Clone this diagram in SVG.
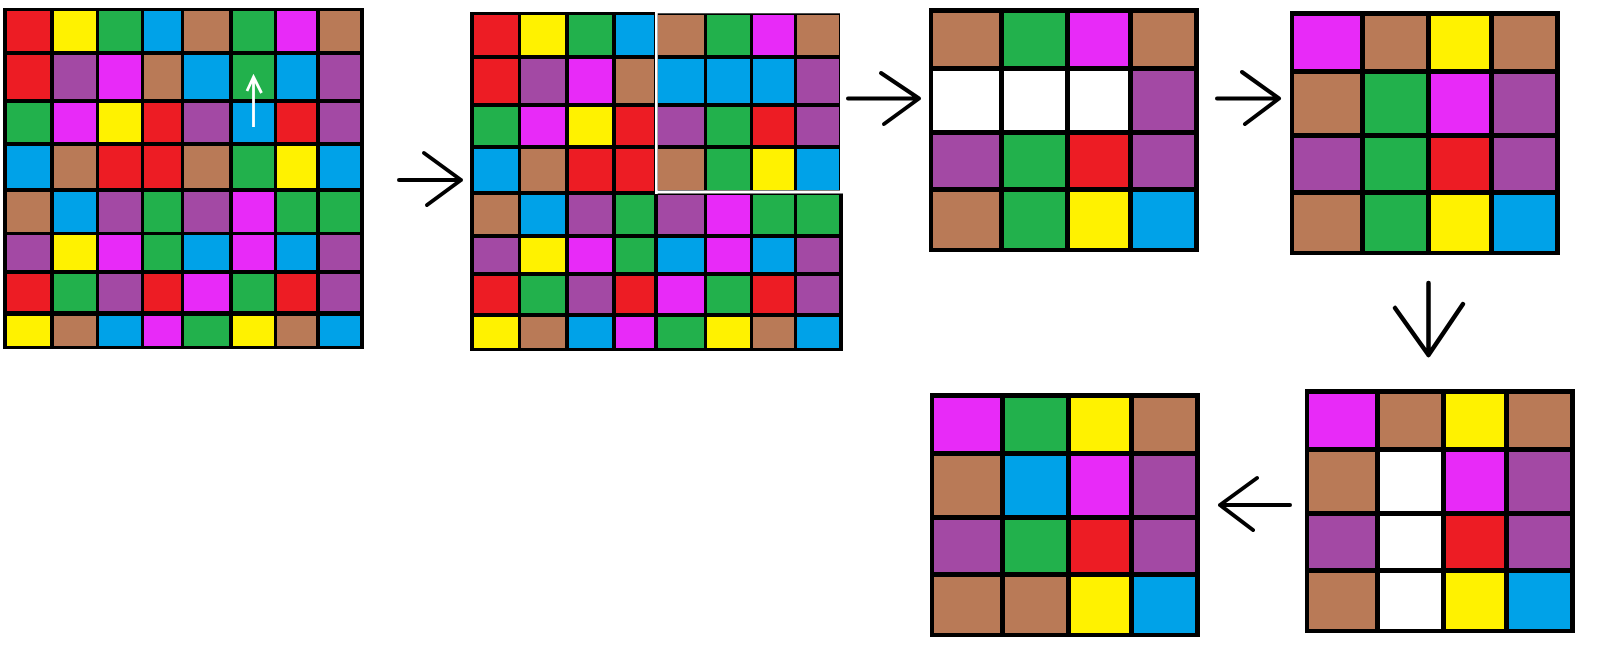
<svg xmlns="http://www.w3.org/2000/svg" width="1600" height="657" viewBox="0 0 1600 657">
<style>
.bk{fill:#000}
.r{fill:#ED1C24}.y{fill:#FFF200}.g{fill:#22B14C}.b{fill:#00A2E8}.n{fill:#B97A57}.m{fill:#E82AF8}.p{fill:#A349A4}.w{fill:#FFFFFF}
.arr{fill:none;stroke:#000;stroke-width:4;stroke-linecap:round;stroke-linejoin:round}
.warr{fill:none;stroke:#FFF;stroke-width:2.8}
</style>
<rect width="1600" height="657" fill="#fff"/>
<g id="grid1">
<rect class="bk" x="3" y="8" width="361" height="341"/>
<rect class="r" x="7" y="11" width="43" height="40"/><rect class="y" x="54" y="11" width="42" height="40"/><rect class="g" x="99" y="11" width="42" height="40"/><rect class="b" x="144" y="11" width="37" height="40"/><rect class="n" x="184" y="11" width="45" height="40"/><rect class="g" x="233" y="11" width="41" height="40"/><rect class="m" x="277" y="11" width="39" height="40"/><rect class="n" x="320" y="11" width="40" height="40"/>
<rect class="r" x="7" y="55" width="43" height="44"/><rect class="p" x="54" y="55" width="42" height="44"/><rect class="m" x="99" y="55" width="42" height="44"/><rect class="n" x="144" y="55" width="37" height="44"/><rect class="b" x="184" y="55" width="45" height="44"/><rect class="g" x="233" y="55" width="41" height="44"/><rect class="b" x="277" y="55" width="39" height="44"/><rect class="p" x="320" y="55" width="40" height="44"/>
<rect class="g" x="7" y="103" width="43" height="39"/><rect class="m" x="54" y="103" width="42" height="39"/><rect class="y" x="99" y="103" width="42" height="39"/><rect class="r" x="144" y="103" width="37" height="39"/><rect class="p" x="184" y="103" width="45" height="39"/><rect class="b" x="233" y="103" width="41" height="39"/><rect class="r" x="277" y="103" width="39" height="39"/><rect class="p" x="320" y="103" width="40" height="39"/>
<rect class="b" x="7" y="146" width="43" height="42"/><rect class="n" x="54" y="146" width="42" height="42"/><rect class="r" x="99" y="146" width="42" height="42"/><rect class="r" x="144" y="146" width="37" height="42"/><rect class="n" x="184" y="146" width="45" height="42"/><rect class="g" x="233" y="146" width="41" height="42"/><rect class="y" x="277" y="146" width="39" height="42"/><rect class="b" x="320" y="146" width="40" height="42"/>
<rect class="n" x="7" y="192" width="43" height="40"/><rect class="b" x="54" y="192" width="42" height="40"/><rect class="p" x="99" y="192" width="42" height="40"/><rect class="g" x="144" y="192" width="37" height="40"/><rect class="p" x="184" y="192" width="45" height="40"/><rect class="m" x="233" y="192" width="41" height="40"/><rect class="g" x="277" y="192" width="39" height="40"/><rect class="g" x="320" y="192" width="40" height="40"/>
<rect class="p" x="7" y="235" width="43" height="35"/><rect class="y" x="54" y="235" width="42" height="35"/><rect class="m" x="99" y="235" width="42" height="35"/><rect class="g" x="144" y="235" width="37" height="35"/><rect class="b" x="184" y="235" width="45" height="35"/><rect class="m" x="233" y="235" width="41" height="35"/><rect class="b" x="277" y="235" width="39" height="35"/><rect class="p" x="320" y="235" width="40" height="35"/>
<rect class="r" x="7" y="274" width="43" height="37"/><rect class="g" x="54" y="274" width="42" height="37"/><rect class="p" x="99" y="274" width="42" height="37"/><rect class="r" x="144" y="274" width="37" height="37"/><rect class="m" x="184" y="274" width="45" height="37"/><rect class="g" x="233" y="274" width="41" height="37"/><rect class="r" x="277" y="274" width="39" height="37"/><rect class="p" x="320" y="274" width="40" height="37"/>
<rect class="y" x="7" y="316" width="43" height="30"/><rect class="n" x="54" y="316" width="42" height="30"/><rect class="b" x="99" y="316" width="42" height="30"/><rect class="m" x="144" y="316" width="37" height="30"/><rect class="g" x="184" y="316" width="45" height="30"/><rect class="y" x="233" y="316" width="41" height="30"/><rect class="n" x="277" y="316" width="39" height="30"/><rect class="b" x="320" y="316" width="40" height="30"/>
<path class="warr" d="M253.5 127 V77 M247 91 L253.5 77 L261.5 93"/>
</g>
<g id="grid2">
<rect class="bk" x="470" y="12" width="373" height="339"/>
<rect class="r" x="474" y="15" width="44" height="40"/><rect class="y" x="521" y="15" width="44" height="40"/><rect class="g" x="569" y="15" width="43" height="40"/><rect class="b" x="616" y="15" width="38" height="40"/><rect class="n" x="658" y="15" width="46" height="40"/><rect class="g" x="707" y="15" width="43" height="40"/><rect class="m" x="753" y="15" width="41" height="40"/><rect class="n" x="797" y="15" width="42" height="40"/>
<rect class="r" x="474" y="59" width="44" height="44"/><rect class="p" x="521" y="59" width="44" height="44"/><rect class="m" x="569" y="59" width="43" height="44"/><rect class="n" x="616" y="59" width="38" height="44"/><rect class="b" x="658" y="59" width="46" height="44"/><rect class="b" x="707" y="59" width="43" height="44"/><rect class="b" x="753" y="59" width="41" height="44"/><rect class="p" x="797" y="59" width="42" height="44"/>
<rect class="g" x="474" y="107" width="44" height="38"/><rect class="m" x="521" y="107" width="44" height="38"/><rect class="y" x="569" y="107" width="43" height="38"/><rect class="r" x="616" y="107" width="38" height="38"/><rect class="p" x="658" y="107" width="46" height="38"/><rect class="g" x="707" y="107" width="43" height="38"/><rect class="r" x="753" y="107" width="41" height="38"/><rect class="p" x="797" y="107" width="42" height="38"/>
<rect class="b" x="474" y="149" width="44" height="42"/><rect class="n" x="521" y="149" width="44" height="42"/><rect class="r" x="569" y="149" width="43" height="42"/><rect class="r" x="616" y="149" width="38" height="42"/><rect class="n" x="658" y="149" width="46" height="41"/><rect class="g" x="707" y="149" width="43" height="41"/><rect class="y" x="753" y="149" width="41" height="41"/><rect class="b" x="797" y="149" width="42" height="41"/>
<rect class="n" x="474" y="195" width="44" height="39"/><rect class="b" x="521" y="195" width="44" height="39"/><rect class="p" x="569" y="195" width="43" height="39"/><rect class="g" x="616" y="195" width="38" height="39"/><rect class="p" x="658" y="195" width="46" height="39"/><rect class="m" x="707" y="195" width="43" height="39"/><rect class="g" x="753" y="195" width="41" height="39"/><rect class="g" x="797" y="195" width="42" height="39"/>
<rect class="p" x="474" y="238" width="44" height="34"/><rect class="y" x="521" y="238" width="44" height="34"/><rect class="m" x="569" y="238" width="43" height="34"/><rect class="g" x="616" y="238" width="38" height="34"/><rect class="b" x="658" y="238" width="46" height="34"/><rect class="m" x="707" y="238" width="43" height="34"/><rect class="b" x="753" y="238" width="41" height="34"/><rect class="p" x="797" y="238" width="42" height="34"/>
<rect class="r" x="474" y="276" width="44" height="37"/><rect class="g" x="521" y="276" width="44" height="37"/><rect class="p" x="569" y="276" width="43" height="37"/><rect class="r" x="616" y="276" width="38" height="37"/><rect class="m" x="658" y="276" width="46" height="37"/><rect class="g" x="707" y="276" width="43" height="37"/><rect class="r" x="753" y="276" width="41" height="37"/><rect class="p" x="797" y="276" width="42" height="37"/>
<rect class="y" x="474" y="317" width="44" height="31"/><rect class="n" x="521" y="317" width="44" height="31"/><rect class="b" x="569" y="317" width="43" height="31"/><rect class="m" x="616" y="317" width="38" height="31"/><rect class="g" x="658" y="317" width="46" height="31"/><rect class="y" x="707" y="317" width="43" height="31"/><rect class="n" x="753" y="317" width="41" height="31"/><rect class="b" x="797" y="317" width="42" height="31"/>
<rect class="w" x="655" y="12" width="2.7" height="182"/>
<rect class="w" x="655" y="190.5" width="188" height="3"/>
<rect class="w" x="840" y="12" width="3" height="180"/>
<rect class="w" x="655" y="12" width="188" height="1.3"/>
</g>
<g id="grid3">
<rect class="bk" x="929" y="8" width="270" height="244"/>
<rect class="n" x="933" y="13" width="66" height="53"/><rect class="g" x="1004" y="13" width="61" height="53"/><rect class="m" x="1070" y="13" width="58" height="53"/><rect class="n" x="1133" y="13" width="61" height="53"/>
<rect class="w" x="933" y="71" width="66" height="59"/><rect class="w" x="1004" y="71" width="61" height="59"/><rect class="w" x="1070" y="71" width="58" height="59"/><rect class="p" x="1133" y="71" width="61" height="59"/>
<rect class="p" x="933" y="135" width="66" height="52"/><rect class="g" x="1004" y="135" width="61" height="52"/><rect class="r" x="1070" y="135" width="58" height="52"/><rect class="p" x="1133" y="135" width="61" height="52"/>
<rect class="n" x="933" y="192" width="66" height="56"/><rect class="g" x="1004" y="192" width="61" height="56"/><rect class="y" x="1070" y="192" width="58" height="56"/><rect class="b" x="1133" y="192" width="61" height="56"/>
</g>
<g id="grid4">
<rect class="bk" x="1290" y="11" width="270" height="244"/>
<rect class="m" x="1294" y="16" width="66" height="53"/><rect class="n" x="1365" y="16" width="61" height="53"/><rect class="y" x="1431" y="16" width="58" height="53"/><rect class="n" x="1494" y="16" width="61" height="53"/>
<rect class="n" x="1294" y="74" width="66" height="59"/><rect class="g" x="1365" y="74" width="61" height="59"/><rect class="m" x="1431" y="74" width="58" height="59"/><rect class="p" x="1494" y="74" width="61" height="59"/>
<rect class="p" x="1294" y="138" width="66" height="52"/><rect class="g" x="1365" y="138" width="61" height="52"/><rect class="r" x="1431" y="138" width="58" height="52"/><rect class="p" x="1494" y="138" width="61" height="52"/>
<rect class="n" x="1294" y="195" width="66" height="56"/><rect class="g" x="1365" y="195" width="61" height="56"/><rect class="y" x="1431" y="195" width="58" height="56"/><rect class="b" x="1494" y="195" width="61" height="56"/>
</g>
<g id="grid5">
<rect class="bk" x="1305" y="389" width="270" height="244"/>
<rect class="m" x="1309" y="394" width="66" height="53"/><rect class="n" x="1380" y="394" width="61" height="53"/><rect class="y" x="1446" y="394" width="58" height="53"/><rect class="n" x="1509" y="394" width="61" height="53"/>
<rect class="n" x="1309" y="452" width="66" height="59"/><rect class="w" x="1380" y="452" width="61" height="59"/><rect class="m" x="1446" y="452" width="58" height="59"/><rect class="p" x="1509" y="452" width="61" height="59"/>
<rect class="p" x="1309" y="516" width="66" height="52"/><rect class="w" x="1380" y="516" width="61" height="52"/><rect class="r" x="1446" y="516" width="58" height="52"/><rect class="p" x="1509" y="516" width="61" height="52"/>
<rect class="n" x="1309" y="573" width="66" height="56"/><rect class="w" x="1380" y="573" width="61" height="56"/><rect class="y" x="1446" y="573" width="58" height="56"/><rect class="b" x="1509" y="573" width="61" height="56"/>
</g>
<g id="grid6">
<rect class="bk" x="930" y="393" width="270" height="244"/>
<rect class="m" x="934" y="398" width="66" height="53"/><rect class="g" x="1005" y="398" width="61" height="53"/><rect class="y" x="1071" y="398" width="58" height="53"/><rect class="n" x="1134" y="398" width="61" height="53"/>
<rect class="n" x="934" y="456" width="66" height="59"/><rect class="b" x="1005" y="456" width="61" height="59"/><rect class="m" x="1071" y="456" width="58" height="59"/><rect class="p" x="1134" y="456" width="61" height="59"/>
<rect class="p" x="934" y="520" width="66" height="52"/><rect class="g" x="1005" y="520" width="61" height="52"/><rect class="r" x="1071" y="520" width="58" height="52"/><rect class="p" x="1134" y="520" width="61" height="52"/>
<rect class="n" x="934" y="577" width="66" height="56"/><rect class="n" x="1005" y="577" width="61" height="56"/><rect class="y" x="1071" y="577" width="58" height="56"/><rect class="b" x="1134" y="577" width="61" height="56"/>
</g>
<g id="connectors">
<path class="arr" d="M399 180 H461 M424 153 L461 180 L427 205"/>
<path class="arr" d="M848 98.5 H919 M881 73 L919 98.5 L884 124"/>
<path class="arr" d="M1217 98.5 H1279 M1242 72 L1279 98.5 L1245 124"/>
<path class="arr" style="stroke-width:4.5" d="M1428.5 283 V355 M1395 308 L1428.5 355 L1463 304"/>
<path class="arr" d="M1290 505 H1220 M1257 478 L1220 505 L1253 530"/>
</g>
</svg>
